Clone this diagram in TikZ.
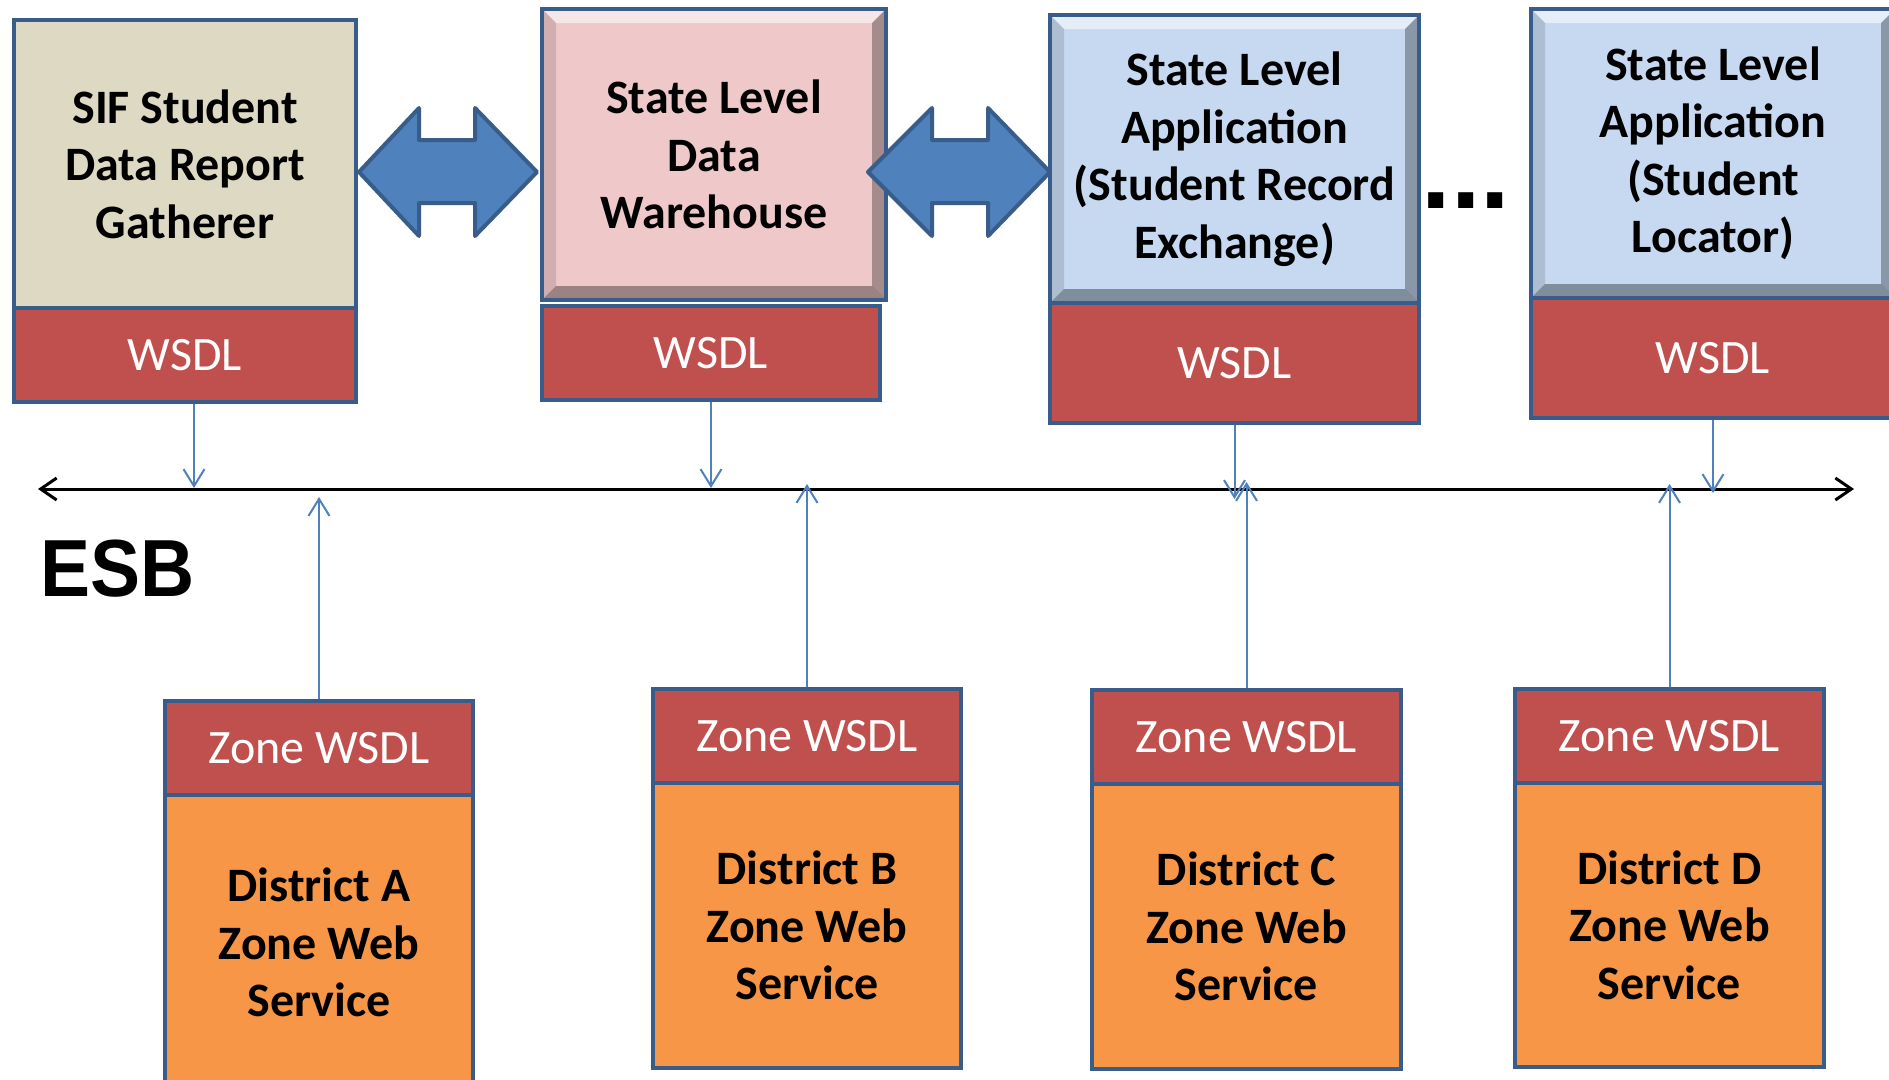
\documentclass[tikz,border=0pt]{standalone}
\usepackage{fontspec}
\setmainfont{Carlito}
\newfontfamily\esbfamily{Liberation Sans}
\usetikzlibrary{arrows.meta,calc}
\definecolor{bord}{HTML}{385D8A}
\definecolor{beige}{HTML}{DDD9C3}
\definecolor{wred}{HTML}{C0504D}
\definecolor{orng}{HTML}{F79646}
\definecolor{lblue}{HTML}{C6D9F1}
\definecolor{pinkc}{HTML}{EFC8CA}
\definecolor{ablue}{HTML}{4F81BD}
\newcommand\boxfont{\fontsize{48}{57.5}\selectfont\bfseries}
\newcommand\wsdlfont{\fontsize{48}{57.5}\selectfont}
\begin{document}
\begin{tikzpicture}[x=1pt,y=-1pt,
  rect/.style={draw=bord, line width=4pt, inner sep=0pt, align=center, font=\boxfont},
  wsdlbox/.style={rect, fill=wred, text=white, font=\wsdlfont},
  bevel/.style={path picture={
    \fill[white,opacity=.55] (path picture bounding box.north west) -- (path picture bounding box.north east) -- ([shift={(-14pt,-14pt)}]path picture bounding box.north east) -- ([shift={(14pt,-14pt)}]path picture bounding box.north west) -- cycle;
    \fill[black,opacity=.12] (path picture bounding box.north west) -- (path picture bounding box.south west) -- ([shift={(14pt,14pt)}]path picture bounding box.south west) -- ([shift={(14pt,-14pt)}]path picture bounding box.north west) -- cycle;
    \fill[black,opacity=.3] (path picture bounding box.north east) -- (path picture bounding box.south east) -- ([shift={(-14pt,14pt)}]path picture bounding box.south east) -- ([shift={(-14pt,-14pt)}]path picture bounding box.north east) -- cycle;
    \fill[black,opacity=.35] (path picture bounding box.south west) -- (path picture bounding box.south east) -- ([shift={(-14pt,14pt)}]path picture bounding box.south east) -- ([shift={(14pt,14pt)}]path picture bounding box.south west) -- cycle;
  }},
  barrow/.style={draw=bord, fill=ablue, line width=4pt, line join=round},
  conn/.style={draw=ablue, line width=2pt, -{Straight Barb[length=17pt,width=21pt]}},
  esbline/.style={draw=black, line width=3pt, {Straight Barb[length=16pt,width=22pt]}-{Straight Barb[length=16pt,width=22pt]}}
]
\useasboundingbox (0,0) rectangle (1889,1079);
\fill[white] (0,0) rectangle (1889,1079);

% top row
\node[rect, fill=beige, minimum width=342pt, minimum height=288pt] (sif) at (185,164) {SIF Student\\Data Report\\Gatherer};
\node[wsdlbox, minimum width=342pt, minimum height=94pt] (sifw) at (185,355) {WSDL};

\node[rect, fill=pinkc, bevel, minimum width=344pt, minimum height=291pt] (dw) at (714,154.5) {State Level\\Data\\Warehouse};
\node[wsdlbox, minimum width=338pt, minimum height=94pt] (dww) at (711,353) {WSDL};

\node[rect, fill=lblue, bevel, minimum width=369pt, minimum height=288pt] (sla1) at (1234.5,159) {State Level\\Application\\(Student Record\\Exchange)};
\node[wsdlbox, minimum width=369pt, minimum height=120pt] (sla1w) at (1234.5,363) {WSDL};

\node[rect, fill=lblue, bevel, minimum width=364pt, minimum height=289pt] (sla2) at (1713,153.5) {State Level\\Application\\(Student\\Locator)};
\node[wsdlbox, minimum width=364pt, minimum height=120pt] (sla2w) at (1713,358) {WSDL};

\node[inner sep=0pt, font=\esbfamily\fontsize{106}{106}\selectfont\bfseries] (dots) at (1466,201) {...};

% block arrows
\draw[barrow] (359,172) -- (419,108) -- (419,140) -- (475,140) -- (475,108) -- (537,172) -- (475,236) -- (475,203) -- (419,203) -- (419,236) -- cycle;
\draw[barrow] (868,172) -- (932,108) -- (932,140) -- (988,140) -- (988,108) -- (1050,172) -- (988,236) -- (988,203) -- (932,203) -- (932,236) -- cycle;

% ESB
\coordinate (esbL) at (38,489);
\coordinate (esbR) at (1854,489);
\draw[esbline] (esbL) -- (esbR);
\node[anchor=west, inner sep=0pt, font=\esbfamily\bfseries\fontsize{75}{80}\selectfont] (esb) at (40,569) {\scalebox{1}[1.08]{ESB}};

% zones
\node[wsdlbox, minimum width=308pt, minimum height=94pt] (zAh) at (319,748) {Zone WSDL};
\node[rect, fill=orng, minimum width=308pt, minimum height=295pt] (zA) at (319,942.5) {District A\\Zone Web\\Service};
\node[wsdlbox, minimum width=308pt, minimum height=94pt] (zBh) at (807,736) {Zone WSDL};
\node[rect, fill=orng, minimum width=308pt, minimum height=285pt] (zB) at (807,925.5) {District B\\Zone Web\\Service};
\node[wsdlbox, minimum width=309pt, minimum height=94pt] (zCh) at (1246.5,737) {Zone WSDL};
\node[rect, fill=orng, minimum width=309pt, minimum height=285pt] (zC) at (1246.5,926.5) {District C\\Zone Web\\Service};
\node[wsdlbox, minimum width=309pt, minimum height=94pt] (zDh) at (1669.5,736) {Zone WSDL};
\node[rect, fill=orng, minimum width=309pt, minimum height=284pt] (zD) at (1669.5,925) {District D\\Zone Web\\Service};

% connectors down
\coordinate (d1) at (194,488);
\coordinate (d2) at (711,488);
\coordinate (d3) at (1234.5,499);
\coordinate (d4) at (1713,493);
\draw[conn] ([xshift=9pt]sifw.south) -- (d1);
\draw[conn] (dww.south) -- (d2);
\draw[conn] (sla1w.south) -- (d3);
\draw[conn] (sla2w.south) -- (d4);

% connectors up
\coordinate (u1) at (319,497);
\coordinate (u2) at (807,484);
\coordinate (u3) at (1246.5,482);
\coordinate (u4) at (1669.5,484);
\draw[conn] (zAh.north) -- (u1);
\draw[conn] (zBh.north) -- (u2);
\draw[conn] (zCh.north) -- (u3);
\draw[conn] (zDh.north) -- (u4);
\end{tikzpicture}
\end{document}
